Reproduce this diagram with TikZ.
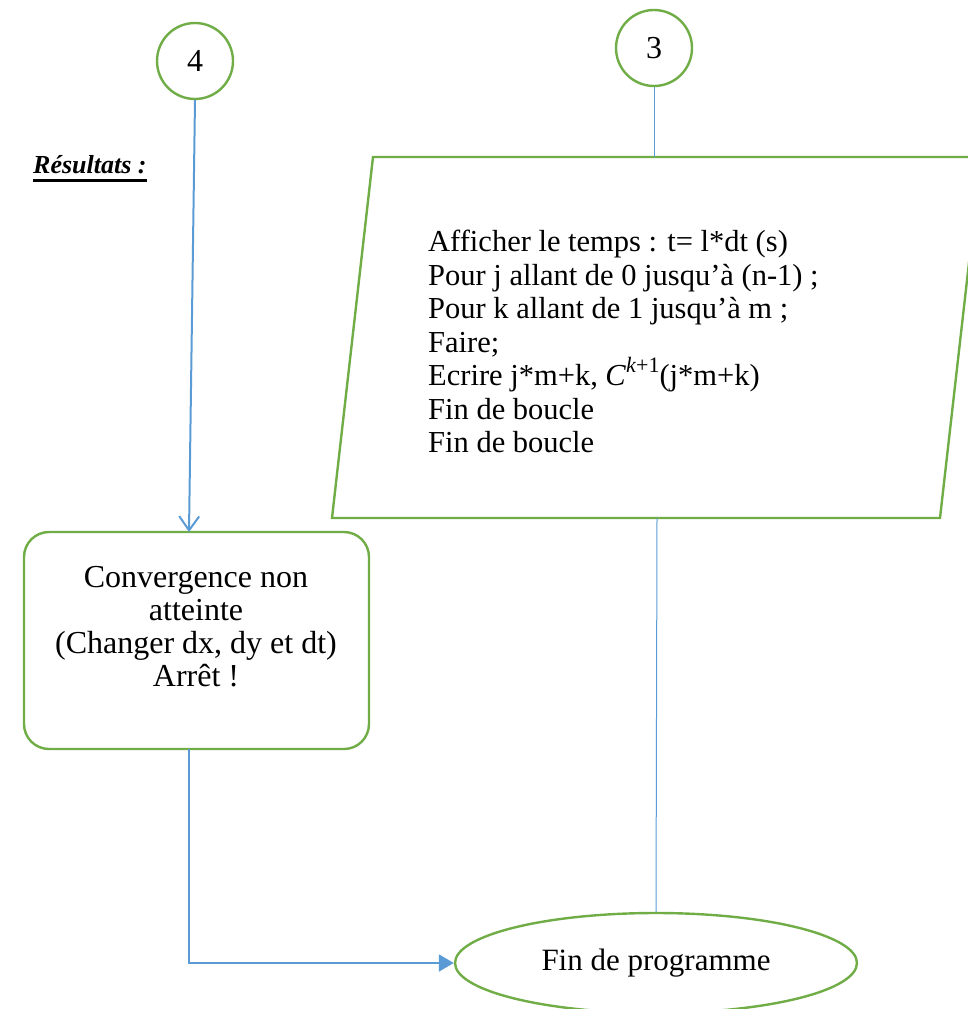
\documentclass[tikz,border=0pt]{standalone}
\usepackage{fontspec}
\setmainfont{Liberation Serif}
\usetikzlibrary{arrows.meta,shapes.geometric}
\definecolor{leaf}{RGB}{112,173,71}
\definecolor{sky}{RGB}{91,155,213}
\begin{document}
\begin{tikzpicture}[x=1pt,y=-1pt,
  connector/.style={draw=sky,line width=1pt},
  flowline/.style={draw=sky,line width=2pt},
  greenline/.style={draw=leaf,line width=2.4pt},
  bubble/.style={circle,greenline,minimum size=76pt,inner sep=0pt,font=\fontsize{32}{34}\selectfont},
  boxtext/.style={font=\fontsize{30.5}{33.5}\selectfont}]
\useasboundingbox (0,0) rectangle (968,1009);

% connector circles
\node[bubble] (c4) at (195,61) {4};
\node[bubble] (c3) at (654,48) {3};

% heading with a heavy underline
\node[anchor=base west,inner sep=0pt,font=\fontsize{26}{28}\selectfont\bfseries\itshape] (res) at (33,173) {Résultats :};
\draw[line width=3pt] (res.base west) ++(0,7) coordinate (ulA) -- (ulA -| res.east);

% output parallelogram
\coordinate (pTL) at (373,157);
\coordinate (pTR) at (981,157);
\coordinate (pBR) at (940,518);
\coordinate (pBL) at (332,518);
\draw[greenline,line join=miter] (pTL) -- (pTR) -- (pBR) -- (pBL) -- cycle;
\coordinate (pIn) at (654,157);
\coordinate (pOut) at (657,518);
\node[boxtext,anchor=north west,align=left,inner sep=0pt] (out) at (428,230)
  {Afficher le temps : t= l*dt (s)\\
   Pour j allant de 0 jusqu’à (n-1) ;\\
   Pour k allant de 1 jusqu’à m ;\\
   Faire;\\
   Ecrire j*m+k, \textit{C}\raisebox{0.42em}{\fontsize{22}{22}\selectfont\textit{k}+1}(j*m+k)\\
   Fin de boucle\\
   Fin de boucle};

% failure box
\node[greenline,rounded corners=25pt,minimum width=345pt,minimum height=217pt,inner sep=0pt] (fail) at (196.5,640.5) {};
\node[font=\fontsize{32}{33}\selectfont,align=center,inner sep=0pt] (failtxt) at (196,627)
  {Convergence non\\ atteinte\\ (Changer dx, dy et dt)\\ Arrêt !};
\coordinate (failIn) at (189,532);
\coordinate (failOut) at (189,749);

% end terminal
\node[ellipse,greenline,minimum width=402pt,minimum height=100pt,inner sep=0pt,
      font=\fontsize{31}{34}\selectfont] (fin) at (656,963) {Fin de programme};

% connectors
\draw[connector] (c3.south) -- (pIn);
\draw[connector] (pOut) -- (fin.north);
\draw[flowline,-{Straight Barb[length=14pt,width=20pt,line width=2pt]}] (c4.south) -- (failIn);
\draw[flowline,-{Triangle[length=15pt,width=17pt]}] (failOut) -- (failOut |- fin.west) -- (fin.west);
\end{tikzpicture}
\end{document}
